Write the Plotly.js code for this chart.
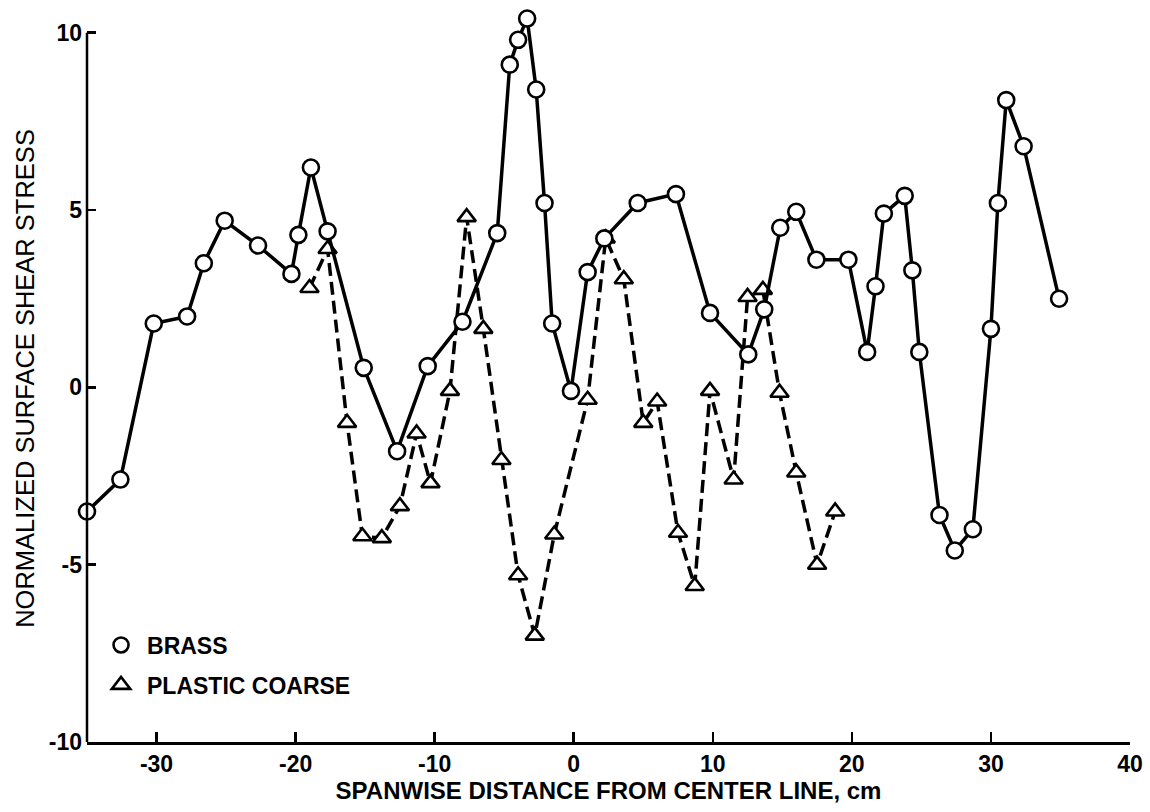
<!DOCTYPE html>
<html>
<head>
<meta charset="utf-8">
<script src="https://cdn.plot.ly/plotly-3.0.1.min.js"></script>
<style>html,body{margin:0;padding:0;background:#fff;}#chart{width:1150px;height:812px;}</style>
</head>
<body>
<div id="chart"></div>
<script>
// Brass series
const brassX = [-35, -32.6, -30.2, -27.8, -26.6, -25.1, -22.7, -20.3, -19.8, -18.9, -17.7, -15.1, -12.7, -10.5, -8.0, -5.5, -4.6, -4.0, -3.35, -2.7, -2.1, -1.55, -0.2, 1.0, 2.2, 4.6, 7.35, 9.8, 12.55, 13.7, 14.85, 16.0, 17.45, 19.75, 21.1, 21.7, 22.3, 23.8, 24.35, 24.85, 26.3, 27.4, 28.7, 30.0, 30.5, 31.1, 32.35, 34.9];
const brassY = [-3.5, -2.6, 1.8, 2.0, 3.5, 4.7, 4.0, 3.2, 4.3, 6.2, 4.4, 0.55, -1.8, 0.6, 1.85, 4.35, 9.1, 9.8, 10.4, 8.4, 5.2, 1.8, -0.1, 3.25, 4.2, 5.2, 5.45, 2.1, 0.93, 2.2, 4.5, 4.95, 3.6, 3.6, 1.0, 2.85, 4.9, 5.4, 3.3, 1.0, -3.6, -4.6, -4.0, 1.65, 5.2, 8.1, 6.8, 2.5];
// Plastic coarse series
const plasticX = [-19.0, -17.7, -16.3, -15.2, -13.8, -12.5, -11.3, -10.3, -8.9, -7.7, -6.5, -5.2, -4.0, -2.8, -1.4, 1.0, 2.3, 3.6, 5.0, 6.0, 7.5, 8.7, 9.8, 11.5, 12.5, 13.6, 14.8, 16.0, 17.5, 18.8];
const plasticY = [2.8, 3.9, -1.0, -4.2, -4.25, -3.35, -1.3, -2.7, -0.1, 4.8, 1.65, -2.05, -5.3, -7.0, -4.15, -0.35, 4.2, 3.05, -1.0, -0.4, -4.1, -5.6, -0.1, -2.6, 2.55, 2.75, -0.15, -2.4, -5.0, -3.5];
// Tick labels
const xTickVals = [-30, -20, -10, 0, 10, 20, 30, 40];
const xTickText = ["-30", "-20", "-10", "0", "10", "20", "30", "40"];
const yTickVals = [10, 5, 0, -5, -10];
const yTickText = ["10", "5", "0", "-5", "-10"];
const seriesNames = ["BRASS", "PLASTIC COARSE"];

const FONT = "Liberation Sans, Arial, Helvetica, sans-serif";

const plastic = {
  x: plasticX, y: plasticY, type: 'scatter', mode: 'lines+markers',
  line: {color: '#000', width: 3.5, dash: '13px,6px'},
  marker: {symbol: 'triangle-up', size: 16, color: '#fff', line: {color: '#000', width: 2.6}},
  cliponaxis: false, showlegend: false, hoverinfo: 'skip'
};
const brass = {
  x: brassX, y: brassY, type: 'scatter', mode: 'lines+markers',
  line: {color: '#000', width: 3.5},
  marker: {symbol: 'circle', size: 16, color: '#fff', line: {color: '#000', width: 2.6}},
  cliponaxis: false, showlegend: false, hoverinfo: 'skip'
};
const legBrass = {
  x: [null], y: [null], type: 'scatter', mode: 'markers', name: seriesNames[0], legendgroup: 'a',
  marker: {symbol: 'circle', size: 15, color: '#fff', line: {color: '#000', width: 2.6}}
};
const legPlastic = {
  x: [null], y: [null], type: 'scatter', mode: 'markers', name: seriesNames[1], legendgroup: 'b',
  marker: {symbol: 'triangle-up', size: 16, color: '#fff', line: {color: '#000', width: 2.6}}
};

const layout = {
  width: 1150, height: 812,
  margin: {l: 87, r: 20, t: 15, b: 70},
  paper_bgcolor: '#fff', plot_bgcolor: '#fff',
  font: {family: FONT, color: '#000'},
  showlegend: true,
  legend: {x: 0.0077, y: 0.163, xanchor: 'left', yanchor: 'top', bgcolor: 'rgba(0,0,0,0)', itemwidth: 42,
           font: {family: FONT, size: 23, weight: 700, color: '#000'}, tracegroupgap: 7, traceorder: 'grouped'},
  xaxis: {
    range: [-35, 40], showgrid: false, zeroline: false, showline: true, linecolor: '#000', linewidth: 2.5,
    ticks: 'inside', ticklen: 10, tickwidth: 2.5, tickcolor: '#000',
    tickvals: xTickVals, ticktext: xTickText,
    tickfont: {family: FONT, size: 23, weight: 700, color: '#000'},
    title: {text: 'SPANWISE DISTANCE FROM CENTER LINE, cm', font: {family: FONT, size: 24, weight: 700, color: '#000'}, standoff: 6}
  },
  yaxis: {
    range: [-10, 10.5], showgrid: false, zeroline: false, showline: false,
    ticks: 'inside', ticklen: 9, tickwidth: 2.5, tickcolor: '#000',
    tickvals: yTickVals, ticktext: yTickText, ticklabelstandoff: 4,
    tickfont: {family: FONT, size: 23, weight: 700, color: '#000'},
    title: {text: 'NORMALIZED SURFACE SHEAR STRESS', font: {family: FONT, size: 25.5, color: '#000'}, standoff: 6}
  },
  shapes: [
    {type: 'line', xref: 'paper', yref: 'y', x0: 0, x1: 0, y0: -10, y1: 10, line: {color: '#000', width: 2.5}}
  ]
};

Plotly.newPlot('chart', [plastic, brass, legBrass, legPlastic], layout, {displayModeBar: false, staticPlot: true});
</script>
</body>
</html>
